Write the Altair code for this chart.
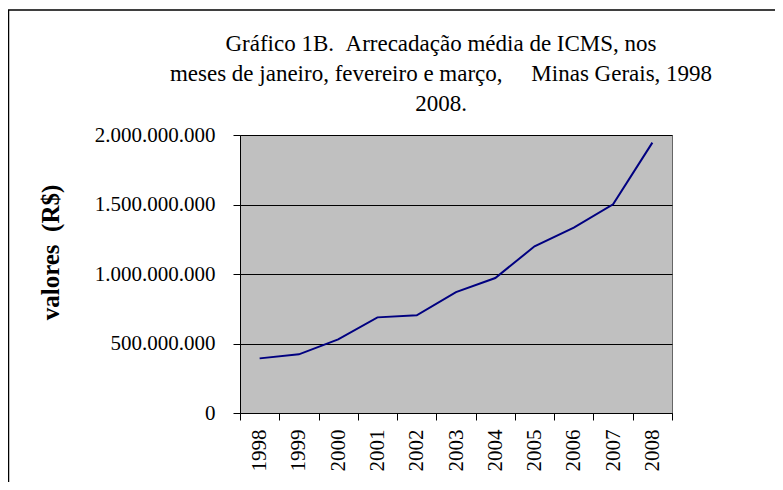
import altair as alt
import pandas as pd

years = ["1998", "1999", "2000", "2001", "2002", "2003", "2004", "2005", "2006", "2007", "2008"]
values = [393e6, 422e6, 530e6, 688e6, 703e6, 870e6, 971e6, 1199e6, 1333e6, 1501e6, 1945e6]
y_ticks = [0, 500e6, 1000e6, 1500e6, 2000e6]

title_lines = [
    "Gráfico 1B.\u00a0\u00a0Arrecadação média de ICMS, nos",
    "meses de janeiro, fevereiro e março,\u00a0\u00a0\u00a0\u00a0\u00a0Minas Gerais, 1998",
    "2008.",
]

df = pd.DataFrame({"ano": years, "valor": values})
SERIF = "Liberation Serif"

line = alt.Chart(df).mark_line(color="#000080", strokeWidth=2).encode(
    x=alt.X(
        "ano:O",
        bandPosition=0.5,
        scale=alt.Scale(type="band", paddingInner=0, paddingOuter=0),
        axis=alt.Axis(
            title=None,
            labelAngle=270,
            labelFont=SERIF,
            labelFontSize=21,
            labelColor="black",
            labelPadding=9,
            tickBand="extent",
            tickSize=7,
            tickColor="black",
            domainColor="black",
            grid=False,
        ),
    ),
    y=alt.Y(
        "valor:Q",
        scale=alt.Scale(domain=[0, 2000e6], nice=False),
        axis=alt.Axis(
            title="valores\u00a0\u00a0(R$)",
            titleFont=SERIF,
            titleFontSize=25,
            titleFontWeight="bold",
            titleColor="black",
            titleAngle=270,
            titleAlign="center",
            titleBaseline="alphabetic",
            titleX=-182,
            titleY=117,
            values=y_ticks,
            format=",.0f",
            labelFont=SERIF,
            labelFontSize=21,
            labelColor="black",
            labelPadding=18,
            tickSize=7,
            tickColor="black",
            domainColor="black",
            grid=True,
            gridColor="black",
            gridWidth=1,
        ),
    ),
)

frame = alt.Chart(pd.DataFrame({"k": [0]})).mark_rect(
    fill=None, stroke="black", strokeWidth=1.5
).encode(
    x=alt.value(-231.5),
    x2=alt.value(560),
    y=alt.value(-125),
    y2=alt.value(380),
)

chart = (
    alt.layer(frame, line)
    .properties(
        width=432,
        height=278,
        autosize=alt.AutoSizeParams(type="none"),
        padding={"left": 232, "top": 127, "right": 103, "bottom": 69},
        title=alt.TitleParams(
            text=title_lines,
            font=SERIF,
            fontSize=23,
            fontWeight="normal",
            color="black",
            lineHeight=30,
            anchor="middle",
            frame="group",
            offset=20,
            dx=-15,
            dy=127,
        ),
    )
    .configure(
        font=SERIF,
        locale={"number": {"decimal": ",", "thousands": ".", "grouping": [3], "currency": ["R$", ""]}},
    )
    .configure_title(font=SERIF, fontWeight="normal")
    .configure_view(fill="#C0C0C0", stroke="#666666", strokeWidth=1)
)

chart.save("out.html", embed_options={"renderer": "svg", "actions": False})
